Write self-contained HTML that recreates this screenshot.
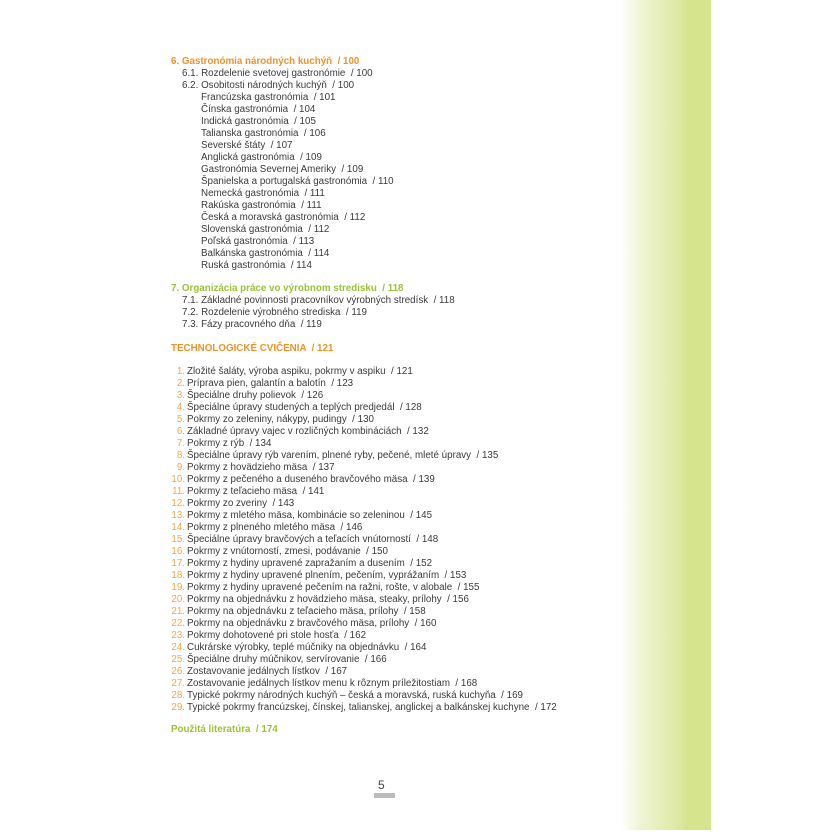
<!DOCTYPE html>
<html><head><meta charset="utf-8"><style>
html,body{margin:0;padding:0;background:#fff;}
body{width:830px;height:830px;position:relative;overflow:hidden;font-family:"Liberation Sans",sans-serif;font-size:9.8px;color:#3a3a3a;}
.band{position:absolute;left:620px;top:0;width:91px;height:830px;background:linear-gradient(to right,#ffffff 0%,#eef4d2 25%,#dfeaa8 60%,#d6e48e 75%,#d6e48e 100%);}
.w{position:absolute;left:0;top:2px;width:830px;height:830px;}
.l{position:absolute;left:171px;height:12px;line-height:12px;white-space:nowrap;}
.o{color:#f0922a;font-weight:bold;}
.g{color:#9cc23a;font-weight:bold;}
.s{left:182px;}
.ss{left:201px;}
.n{display:inline-block;width:14px;text-align:right;color:#f5a54a;margin-right:2px;}
.num{position:absolute;left:378px;top:778px;font-size:12px;color:#444;}
.bar{position:absolute;left:374px;top:793px;width:21px;height:5px;background:#bcbcbc;}
</style></head><body>
<div class="band"></div>
<div class="w">
<div class="l o" style="top:54px">6. Gastronómia národných kuchýň &nbsp;/ 100</div>
<div class="l s" style="top:66px">6.1. Rozdelenie svetovej gastronómie &nbsp;/ 100</div>
<div class="l s" style="top:78px">6.2. Osobitosti národných kuchýň &nbsp;/ 100</div>
<div class="l ss" style="top:90px">Francúzska gastronómia &nbsp;/ 101</div>
<div class="l ss" style="top:102px">Čínska gastronómia &nbsp;/ 104</div>
<div class="l ss" style="top:114px">Indická gastronómia &nbsp;/ 105</div>
<div class="l ss" style="top:126px">Talianska gastronómia &nbsp;/ 106</div>
<div class="l ss" style="top:138px">Severské štáty &nbsp;/ 107</div>
<div class="l ss" style="top:150px">Anglická gastronómia &nbsp;/ 109</div>
<div class="l ss" style="top:162px">Gastronómia Severnej Ameriky &nbsp;/ 109</div>
<div class="l ss" style="top:174px">Španielska a portugalská gastronómia &nbsp;/ 110</div>
<div class="l ss" style="top:186px">Nemecká gastronómia &nbsp;/ 111</div>
<div class="l ss" style="top:198px">Rakúska gastronómia &nbsp;/ 111</div>
<div class="l ss" style="top:210px">Česká a moravská gastronómia &nbsp;/ 112</div>
<div class="l ss" style="top:222px">Slovenská gastronómia &nbsp;/ 112</div>
<div class="l ss" style="top:234px">Poľská gastronómia &nbsp;/ 113</div>
<div class="l ss" style="top:246px">Balkánska gastronómia &nbsp;/ 114</div>
<div class="l ss" style="top:258px">Ruská gastronómia &nbsp;/ 114</div>

<div class="l g" style="top:281px">7. Organizácia práce vo výrobnom stredisku &nbsp;/ 118</div>
<div class="l s" style="top:293px">7.1. Základné povinnosti pracovníkov výrobných stredísk &nbsp;/ 118</div>
<div class="l s" style="top:305px">7.2. Rozdelenie výrobného strediska &nbsp;/ 119</div>
<div class="l s" style="top:317px">7.3. Fázy pracovného dňa &nbsp;/ 119</div>

<div class="l o" style="top:341px">TECHNOLOGICKÉ CVIČENIA &nbsp;/ 121</div>

<div class="l" style="top:364px"><span class="n">1.</span>Zložité šaláty, výroba aspiku, pokrmy v aspiku &nbsp;/ 121</div>
<div class="l" style="top:376px"><span class="n">2.</span>Príprava pien, galantín a balotín &nbsp;/ 123</div>
<div class="l" style="top:388px"><span class="n">3.</span>Špeciálne druhy polievok &nbsp;/ 126</div>
<div class="l" style="top:400px"><span class="n">4.</span>Špeciálne úpravy studených a teplých predjedál &nbsp;/ 128</div>
<div class="l" style="top:412px"><span class="n">5.</span>Pokrmy zo zeleniny, nákypy, pudingy &nbsp;/ 130</div>
<div class="l" style="top:424px"><span class="n">6.</span>Základné úpravy vajec v rozličných kombináciách &nbsp;/ 132</div>
<div class="l" style="top:436px"><span class="n">7.</span>Pokrmy z rýb &nbsp;/ 134</div>
<div class="l" style="top:448px"><span class="n">8.</span>Špeciálne úpravy rýb varením, plnené ryby, pečené, mleté úpravy &nbsp;/ 135</div>
<div class="l" style="top:460px"><span class="n">9.</span>Pokrmy z hovädzieho mäsa &nbsp;/ 137</div>
<div class="l" style="top:472px"><span class="n">10.</span>Pokrmy z pečeného a duseného bravčového mäsa &nbsp;/ 139</div>
<div class="l" style="top:484px"><span class="n">11.</span>Pokrmy z teľacieho mäsa &nbsp;/ 141</div>
<div class="l" style="top:496px"><span class="n">12.</span>Pokrmy zo zveriny &nbsp;/ 143</div>
<div class="l" style="top:508px"><span class="n">13.</span>Pokrmy z mletého mäsa, kombinácie so zeleninou &nbsp;/ 145</div>
<div class="l" style="top:520px"><span class="n">14.</span>Pokrmy z plneného mletého mäsa &nbsp;/ 146</div>
<div class="l" style="top:532px"><span class="n">15.</span>Špeciálne úpravy bravčových a teľacích vnútorností &nbsp;/ 148</div>
<div class="l" style="top:544px"><span class="n">16.</span>Pokrmy z vnútorností, zmesi, podávanie &nbsp;/ 150</div>
<div class="l" style="top:556px"><span class="n">17.</span>Pokrmy z hydiny upravené zapražaním a dusením &nbsp;/ 152</div>
<div class="l" style="top:568px"><span class="n">18.</span>Pokrmy z hydiny upravené plnením, pečením, vyprážaním &nbsp;/ 153</div>
<div class="l" style="top:580px"><span class="n">19.</span>Pokrmy z hydiny upravené pečením na ražni, rošte, v alobale &nbsp;/ 155</div>
<div class="l" style="top:592px"><span class="n">20.</span>Pokrmy na objednávku z hovädzieho mäsa, steaky, prílohy &nbsp;/ 156</div>
<div class="l" style="top:604px"><span class="n">21.</span>Pokrmy na objednávku z teľacieho mäsa, prílohy &nbsp;/ 158</div>
<div class="l" style="top:616px"><span class="n">22.</span>Pokrmy na objednávku z bravčového mäsa, prílohy &nbsp;/ 160</div>
<div class="l" style="top:628px"><span class="n">23.</span>Pokrmy dohotovené pri stole hosťa &nbsp;/ 162</div>
<div class="l" style="top:640px"><span class="n">24.</span>Cukrárske výrobky, teplé múčniky na objednávku &nbsp;/ 164</div>
<div class="l" style="top:652px"><span class="n">25.</span>Špeciálne druhy múčnikov, servírovanie &nbsp;/ 166</div>
<div class="l" style="top:664px"><span class="n">26.</span>Zostavovanie jedálnych lístkov &nbsp;/ 167</div>
<div class="l" style="top:676px"><span class="n">27.</span>Zostavovanie jedálnych lístkov menu k rôznym príležitostiam &nbsp;/ 168</div>
<div class="l" style="top:688px"><span class="n">28.</span>Typické pokrmy národných kuchýň – česká a moravská, ruská kuchyňa &nbsp;/ 169</div>
<div class="l" style="top:700px"><span class="n">29.</span>Typické pokrmy francúzskej, čínskej, talianskej, anglickej a balkánskej kuchyne &nbsp;/ 172</div>

<div class="l g" style="top:722px">Použitá literatúra &nbsp;/ 174</div>
</div>
<div class="num">5</div>
<div class="bar"></div>
</body></html>
